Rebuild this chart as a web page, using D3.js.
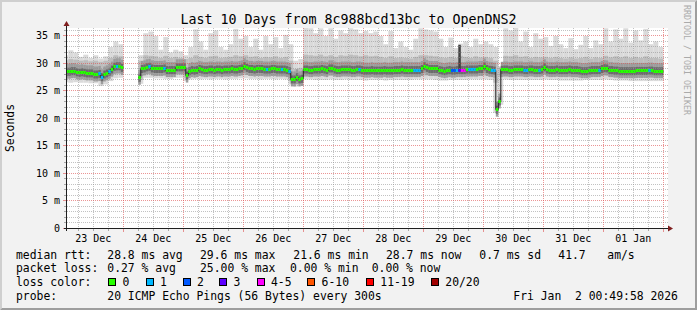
<!DOCTYPE html>
<html>
<head>
<meta charset="utf-8">
<script src="https://cdn.jsdelivr.net/npm/d3@7"></script>
<style>
  html, body { margin: 0; padding: 0; background: #f2f2f2; }
  svg { display: block; font-family: "DejaVu Sans Mono", monospace; }
  text { white-space: pre; }
</style>
</head>
<body>
<svg id="chart" width="697" height="310"></svg>
<script>
// hourly median rtt in ms, hour 0 = 23 Dec 00:00 (null = no data)
const medianRtt = [
  28.5, 28.5, 28.5, 28.6, 28.6, 28.4, 28.3, 28.4, 28.3, 28.2, 28.2, 28.2, 28.0, 28.0, 28.1, 27.5, 28.0, 28.2, 28.5, 28.9, 29.4, 29.5, 29.5, 29.2,
  null, null, null, null, null, null, 27.4, 29.0, 29.1, 29.3, 29.4, 29.1, 29.0, 29.0, 29.0, 29.0, 29.1, 28.8, 28.8, 28.8, 28.8, 29.3, 29.3, 29.3,
  29.3, 27.8, 28.6, 28.8, 28.7, 28.8, 29.0, 28.9, 28.8, 28.8, 28.9, 28.9, 28.8, 28.9, 28.9, 28.8, 28.9, 28.9, 28.9, 29.0, 28.9, 28.9, 29.0, 29.1,
  29.5, 29.2, 29.0, 29.0, 28.9, 29.0, 29.0, 29.0, 28.9, 28.9, 28.9, 29.0, 29.0, 28.9, 28.9, 28.9, 28.9, 28.8, 28.6, 27.1, 27.1, 27.5, 27.1, 27.2,
  28.9, 28.9, 28.8, 28.8, 28.9, 28.9, 28.9, 29.0, 28.9, 28.8, 29.1, 29.1, 28.9, 28.8, 28.8, 28.9, 28.9, 28.9, 28.9, 28.8, 28.8, 28.9, 28.9, 28.8,
  28.7, 28.7, 28.7, 28.8, 28.7, 28.7, 28.7, 28.7, 28.8, 28.7, 28.7, 28.7, 28.8, 28.8, 28.8, 28.9, 28.8, 28.8, 28.8, 28.8, 28.8, 28.8, 28.8, 29.0,
  29.5, 29.2, 29.0, 29.0, 29.0, 29.0, 28.8, 28.7, 28.6, 28.7, 28.8, 28.7, 28.7, 28.8, 28.8, 28.8, 28.8, 28.9, 28.9, 28.9, 28.9, 28.9, 29.0, 29.0,
  29.45, 29.0, 28.85, 28.8, 28.7, 21.6, 23.1, 28.85, 28.9, 28.9, 28.8, 28.8, 28.9, 28.9, 28.9, 28.9, 28.8, 28.8, 28.9, 28.9, 28.8, 28.8, 28.8, 28.9,
  29.3, 28.9, 28.8, 28.8, 28.8, 28.9, 28.8, 28.8, 28.8, 28.8, 28.9, 28.8, 28.8, 28.8, 28.7, 28.6, 28.6, 28.6, 28.7, 28.8, 28.8, 28.8, 28.8, 29.0,
  29.15, 29.1, 28.8, 28.8, 28.7, 28.7, 28.6, 28.6, 28.6, 28.6, 28.6, 28.6, 28.6, 28.65, 28.65, 28.65, 28.65, 28.65, 28.7, 28.7, 28.6, 28.6, 28.6, 28.6
];

// hours with packet loss and the number of lost pings (of 20)
const lossHours = [14, 15, 18, 21, 34, 40, 81, 87, 90, 118, 140, 141, 142, 155, 156, 157, 158, 159, 160, 162, 163, 164, 171, 172, 184, 185, 190, 214, 234];
const lossCounts = [1, 1, 1, 1, 1, 1, 1, 1, 1, 1, 1, 1, 1, 2, 2, 1, 3, 4, 4, 1, 1, 1, 1, 1, 1, 1, 1, 1, 1];

// hour where most pings sat well above the median, and how high (ms)
const burstHours = [158];
const burstTop = [33.4];

// smoke, 2-hour buckets: lowest ping, lower dense edge, upper dense edge, highest ping (ms)
const rttMin = [
  26.6, 26.5, 26.6, 26.5, 26.5, 26.4, 26.4, 25.9, 26.2, 26.8, 27.3, 27.4,
  null, null, null, 26.3, 27.4, 27.4, 27.3, 27.3, 27.2, 27.2, 27.4, 27.4,
  26.8, 27.1, 27.2, 27.1, 27.2, 27.1, 27.2, 27.2, 27.1, 27.2, 27.2, 27.3,
  27.3, 27.2, 27.2, 27.1, 27.2, 27.2, 27.1, 27.2, 27.1, 26.2, 25.8, 25.9,
  27.1, 27.1, 27.0, 27.0, 27.0, 27.1, 27.0, 27.0, 27.1, 27.0, 27.0, 27.0,
  26.9, 27.0, 27.0, 27.0, 26.9, 27.0, 27.0, 27.0, 27.0, 27.0, 27.1, 27.1,
  27.1, 27.1, 27.0, 26.9, 26.9, 27.0, 27.0, 27.0, 27.0, 27.1, 27.1, 27.1,
  27.1, 27.0, 21.0, 22.5, 27.1, 27.0, 27.0, 27.0, 27.0, 27.0, 27.0, 27.0,
  27.1, 27.0, 27.0, 26.9, 26.9, 26.9, 26.9, 26.9, 27.0, 27.0, 27.0, 27.0,
  27.1, 27.0, 26.9, 26.9, 26.9, 26.8, 26.8, 26.8, 26.8, 26.8, 26.8, 26.8
];
const rttLow = [
  27.5, 27.4, 27.4, 27.3, 27.3, 27.2, 27.1, 26.8, 27.0, 27.6, 28.0, 28.1,
  null, null, null, 27.0, 28.0, 28.0, 27.9, 27.9, 27.8, 27.8, 28.0, 28.0,
  27.4, 27.7, 27.8, 27.7, 27.8, 27.7, 27.8, 27.8, 27.7, 27.8, 27.8, 27.9,
  27.9, 27.8, 27.8, 27.7, 27.8, 27.8, 27.7, 27.8, 27.7, 26.8, 26.4, 26.5,
  27.7, 27.8, 27.7, 27.7, 27.7, 27.8, 27.7, 27.7, 27.8, 27.7, 27.7, 27.7,
  27.6, 27.6, 27.6, 27.7, 27.6, 27.6, 27.7, 27.7, 27.7, 27.7, 27.7, 27.8,
  27.8, 27.8, 27.7, 27.6, 27.5, 27.6, 27.7, 27.7, 27.7, 27.8, 27.8, 27.9,
  27.8, 27.7, 26.5, 27.5, 27.7, 27.7, 27.7, 27.7, 27.6, 27.7, 27.7, 27.7,
  27.9, 27.7, 27.6, 27.6, 27.6, 27.5, 27.5, 27.5, 27.6, 27.7, 27.6, 27.7,
  27.8, 27.7, 27.6, 27.5, 27.5, 27.5, 27.5, 27.5, 27.5, 27.5, 27.5, 27.5
];
const rttHigh = [
  30.6, 30.8, 30.7, 30.5, 30.6, 30.4, 30.5, 30.3, 30.5, 31.0, 31.5, 31.3,
  null, null, null, 30.5, 31.5, 31.4, 31.3, 31.0, 31.4, 31.0, 31.2, 31.0,
  30.8, 31.0, 31.5, 31.2, 31.0, 31.3, 31.4, 31.0, 31.1, 31.2, 31.5, 31.3,
  31.5, 31.2, 31.3, 31.0, 31.2, 31.1, 31.3, 31.0, 31.2, 30.5, 29.0, 29.2,
  31.6, 31.5, 31.4, 31.6, 31.3, 31.5, 31.2, 31.5, 31.4, 31.6, 31.5, 31.3,
  31.5, 31.3, 31.4, 31.2, 31.0, 31.3, 31.0, 31.1, 31.0, 30.9, 31.2, 31.5,
  31.5, 31.4, 31.3, 31.1, 31.0, 31.2, 31.0, 31.4, 31.2, 31.0, 31.3, 31.1,
  31.2, 31.0, 30.5, 29.3, 31.4, 31.3, 31.5, 31.2, 31.3, 31.0, 31.2, 31.1,
  31.2, 31.0, 31.2, 31.0, 30.9, 31.1, 30.9, 31.0, 31.2, 30.9, 31.1, 31.0,
  31.4, 31.1, 31.3, 31.1, 31.3, 31.0, 31.2, 31.0, 31.3, 31.0, 31.0, 30.9
];
const rttMax = [
  31.5, 32.4, 32.0, 31.2, 31.6, 31.0, 31.5, 30.9, 31.3, 33.0, 34.0, 33.5,
  null, null, null, 31.5, 35.5, 35.8, 35.0, 32.5, 34.8, 32.0, 32.5, 32.2,
  31.5, 33.0, 36.2, 34.0, 32.5, 35.5, 36.0, 33.0, 32.5, 33.5, 36.3, 34.5,
  35.0, 33.0, 34.5, 32.5, 35.0, 33.5, 34.8, 32.8, 35.2, 33.5, 30.5, 30.8,
  36.5, 36.4, 35.5, 36.4, 35.0, 36.4, 34.5, 36.0, 35.5, 36.4, 36.2, 35.5,
  35.9, 35.5, 35.8, 35.0, 33.5, 35.9, 32.8, 34.0, 33.0, 32.5, 34.5, 36.4,
  36.2, 36.0, 35.8, 34.5, 33.0, 34.7, 32.8, 33.6, 34.0, 33.0, 34.5, 33.5,
  34.0, 33.5, 33.0, 29.5, 36.4, 36.0, 36.5, 34.0, 35.8, 33.0, 35.5, 34.5,
  34.8, 33.2, 35.0, 33.5, 32.8, 34.6, 32.6, 33.4, 35.0, 32.8, 34.2, 33.5,
  36.4, 34.0, 36.2, 34.5, 36.4, 33.8, 36.0, 34.2, 36.3, 33.5, 34.0, 33.0
];

const dayLabels = ['23 Dec', '24 Dec', '25 Dec', '26 Dec', '27 Dec', '28 Dec', '29 Dec', '30 Dec', '31 Dec', '01 Jan'];
const yTicks = [0, 5, 10, 15, 20, 25, 30, 35];

const lossLabels = ['0', '1', '2', '3', '4-5', '6-10', '11-19', '20/20'];
const lossUpper = [0, 1, 2, 3, 5, 10, 19, 20];
const lossColors = ['#26ff00', '#00b8ff', '#0059ff', '#5e00ff', '#ff00ff', '#ff5500', '#ff0000', '#a00000'];

const titleText = 'Last 10 Days from 8c988bcd13bc to OpenDNS2';
const rttStats = ['28.8 ms avg', '29.6 ms max', '21.6 ms min', '28.7 ms now', '0.7 ms sd', '41.7', 'am/s'];
const lossStats = ['0.27 % avg', '25.00 % max', '0.00 % min', '0.00 % now'];
const probeText = '20 ICMP Echo Pings (56 Bytes) every 300s';
const stampText = 'Fri Jan  2 00:49:58 2026';

// ---- layout ----
const W = 697, H = 310;
const plot = { left: 67, right: 668, top: 28, bottom: 228 };
const svg = d3.select('#chart');

const x = d3.scaleLinear().domain([1.48, 241.88]).range([plot.left, plot.right]);
const y = d3.scaleLinear().domain([0, 36.36]).range([plot.bottom + 0.5, plot.top + 0.5]);
const px = v => Math.floor(v) + 0.5;

// background and bevel
svg.append('rect').attr('width', W).attr('height', H).attr('fill', '#f2f2f2');
svg.append('path').attr('d', `M0,0H${W}L${W - 2},2H2V${H - 2}L0,${H}Z`).attr('fill', '#cfcfcf');
svg.append('path').attr('d', `M${W},0V${H}H0L2,${H - 2}H${W - 2}V2Z`).attr('fill', '#9e9e9e');

svg.append('rect').attr('x', plot.left).attr('y', plot.top)
  .attr('width', plot.right - plot.left).attr('height', plot.bottom - plot.top).attr('fill', '#ffffff');

svg.append('defs').append('clipPath').attr('id', 'plotClip').append('rect')
  .attr('x', plot.left).attr('y', plot.top).attr('width', plot.right - plot.left).attr('height', plot.bottom - plot.top);

// smoke
const smoke = svg.append('g').attr('clip-path', 'url(#plotClip)');
const buckets = d3.range(rttMin.length).filter(i => rttMin[i] != null);
smoke.selectAll('rect.outer').data(buckets).join('rect').attr('class', 'outer')
  .attr('x', i => x(i * 2)).attr('width', i => x(i * 2 + 2) - x(i * 2))
  .attr('y', i => y(rttMax[i])).attr('height', i => y(rttMin[i]) - y(rttMax[i]))
  .attr('fill', '#dadada');
smoke.selectAll('rect.dense').data(buckets).join('rect').attr('class', 'dense')
  .attr('x', i => x(i * 2)).attr('width', i => x(i * 2 + 2) - x(i * 2))
  .attr('y', i => y(rttHigh[i])).attr('height', i => y(rttLow[i]) - y(rttHigh[i]))
  .attr('fill', '#bdbdbd');

const hours = d3.range(medianRtt.length).filter(j => medianRtt[j] != null);
smoke.selectAll('rect.halo').data(hours).join('rect').attr('class', 'halo')
  .attr('x', j => x(j)).attr('width', j => x(j + 1) - x(j))
  .attr('y', j => y(medianRtt[j]) - 8).attr('height', 15)
  .attr('fill', '#9c9c9c');
smoke.selectAll('rect.core').data(hours).join('rect').attr('class', 'core')
  .attr('x', j => x(j)).attr('width', j => x(j + 1) - x(j))
  .attr('y', j => y(medianRtt[j]) - 4).attr('height', 8)
  .attr('fill', '#6c6c6c');
smoke.selectAll('rect.burst').data(burstHours).join('rect').attr('class', 'burst')
  .attr('x', (h, k) => x(h)).attr('width', (h, k) => x(h + 1) - x(h))
  .attr('y', (h, k) => y(burstTop[k])).attr('height', (h, k) => y(medianRtt[h]) - y(burstTop[k]))
  .attr('fill', '#404040');

// grid
const grid = svg.append('g').attr('shape-rendering', 'crispEdges');
const minorY = d3.range(1, 37).filter(v => v % 5 !== 0);
grid.selectAll('line.ymin').data(minorY).join('line')
  .attr('x1', plot.left).attr('x2', plot.right).attr('y1', v => px(y(v))).attr('y2', v => px(y(v)))
  .attr('stroke', 'rgba(143,143,143,0.55)').attr('stroke-dasharray', '1,1');
grid.selectAll('line.ymint').data(minorY).join('line')
  .attr('x1', plot.left - 3).attr('x2', plot.left).attr('y1', v => px(y(v))).attr('y2', v => px(y(v)))
  .attr('stroke', 'rgba(143,143,143,0.75)');
const gridHours = d3.range(6, 242, 6);
grid.selectAll('line.xgrid').data(gridHours).join('line')
  .attr('x1', h => px(x(h))).attr('x2', h => px(x(h))).attr('y1', plot.top).attr('y2', plot.bottom)
  .attr('stroke', h => h % 24 === 0 ? 'rgba(222,79,79,0.6)' : 'rgba(143,143,143,0.55)')
  .attr('stroke-dasharray', '1,1');
grid.selectAll('line.xtick').data(gridHours).join('line')
  .attr('x1', h => px(x(h))).attr('x2', h => px(x(h))).attr('y1', plot.bottom).attr('y2', h => plot.bottom + (h % 24 === 0 ? 4 : 3))
  .attr('stroke', h => h % 24 === 0 ? 'rgba(222,79,79,0.6)' : 'rgba(143,143,143,0.75)');
grid.selectAll('line.ymaj').data(yTicks.filter(v => v > 0)).join('line')
  .attr('x1', plot.left).attr('x2', plot.right).attr('y1', v => px(y(v))).attr('y2', v => px(y(v)))
  .attr('stroke', 'rgba(222,79,79,0.6)').attr('stroke-dasharray', '1,1');
grid.selectAll('line.ymajt').data(yTicks).join('line')
  .attr('x1', plot.left - 4).attr('x2', plot.left).attr('y1', v => px(y(v))).attr('y2', v => px(y(v)))
  .attr('stroke', 'rgba(222,79,79,0.6)');

// median: thin dark step line, then loss-coloured segments
const lossAt = new Map(lossHours.map((h, k) => [h, lossCounts[k]]));
const lossColor = n => lossColors[lossUpper.findIndex(u => n <= u)];
const stepPts = [];
medianRtt.forEach((v, j) => { stepPts.push({ h: j, v }, { h: j + 1, v }); });
const plotArea = svg.append('g').attr('clip-path', 'url(#plotClip)');
plotArea.append('path')
  .attr('d', d3.line().defined(d => d.v != null).x(d => x(d.h)).y(d => px(y(d.v)))(stepPts))
  .attr('fill', 'none').attr('stroke', '#202020').attr('stroke-width', 1);
plotArea.selectAll('line.med').data(hours).join('line')
  .attr('x1', j => x(j)).attr('x2', j => x(j + 1))
  .attr('y1', j => px(y(medianRtt[j]))).attr('y2', j => px(y(medianRtt[j])))
  .attr('stroke', j => lossColor(lossAt.get(j) || 0)).attr('stroke-width', 3);

// axes
const axisCol = '#1f1f1f', arrowCol = '#801f1f';
svg.append('line').attr('x1', plot.left - 3).attr('x2', plot.right + 2).attr('y1', plot.bottom + 0.5).attr('y2', plot.bottom + 0.5)
  .attr('stroke', axisCol);
svg.append('line').attr('x1', plot.left - 0.5).attr('x2', plot.left - 0.5).attr('y1', plot.bottom + 3).attr('y2', plot.top - 2)
  .attr('stroke', axisCol);
svg.append('path').attr('d', `M${plot.right},${plot.bottom - 2.5}L${plot.right + 5},${plot.bottom + 0.5}L${plot.right},${plot.bottom + 3.5}Z`).attr('fill', arrowCol);
svg.append('path').attr('d', `M${plot.left - 3.5},${plot.top - 2}L${plot.left - 0.5},${plot.top - 7}L${plot.left + 2.5},${plot.top - 2}Z`).attr('fill', arrowCol);

svg.selectAll('text.ylab').data(yTicks).join('text')
  .attr('x', 60).attr('y', v => px(y(v)) + 3.5).attr('text-anchor', 'end')
  .attr('font-size', 10).text(v => v === 0 ? '0' : `${v} m`);
svg.selectAll('text.xlab').data(dayLabels).join('text')
  .attr('x', (d, k) => x(12 + 24 * k)).attr('y', 241.5).attr('text-anchor', 'middle')
  .attr('font-size', 10).text(d => d);

svg.append('text').attr('x', 348.5).attr('y', 23.5).attr('text-anchor', 'middle').attr('font-size', 13.3).text(titleText);
svg.append('text').attr('transform', 'translate(14,128) rotate(-90)').attr('text-anchor', 'middle').attr('font-size', 11.4).text('Seconds');
svg.append('text').attr('transform', 'translate(684,5) rotate(90)').attr('font-size', 8.3).attr('fill', '#aaaaaa').text('RRDTOOL / TOBI OETIKER');

// legend
const leg = svg.append('g').attr('font-size', 11.4);
const rows = [258.5, 272.3, 286, 300];
leg.append('text').attr('x', 16).attr('y', rows[0]).text('median rtt:');
leg.append('text').attr('x', 16).attr('y', rows[1]).text('packet loss:');
leg.append('text').attr('x', 16).attr('y', rows[2]).text('loss color:');
leg.append('text').attr('x', 16).attr('y', rows[3]).text('probe:');
const rttX = [107.3, 200, 293.3, 386, 479.3, 558.3, 607.3];
leg.selectAll('text.rtt').data(rttStats).join('text').attr('x', (d, k) => rttX[k]).attr('y', rows[0]).text(d => d);
const lossX = [107.3, 200, 290, 371.7];
leg.selectAll('text.loss').data(lossStats).join('text').attr('x', (d, k) => lossX[k]).attr('y', rows[1]).text(d => d);
const swX = [108.3, 145.7, 182.7, 219.3, 256.7, 307.3, 366, 431];
leg.selectAll('rect.sw').data(lossLabels).join('rect')
  .attr('x', (d, k) => Math.round(swX[k]) + 0.5).attr('y', 278.5).attr('width', 7).attr('height', 7)
  .attr('fill', (d, k) => lossColors[k]).attr('stroke', '#000').attr('stroke-width', 1);
leg.selectAll('text.swl').data(lossLabels).join('text')
  .attr('x', (d, k) => swX[k] + 14.3).attr('y', rows[2]).text(d => d);
leg.append('text').attr('x', 107.3).attr('y', rows[3]).text(probeText);
leg.append('text').attr('x', 513.3).attr('y', rows[3]).text(stampText);
</script>
</body>
</html>
